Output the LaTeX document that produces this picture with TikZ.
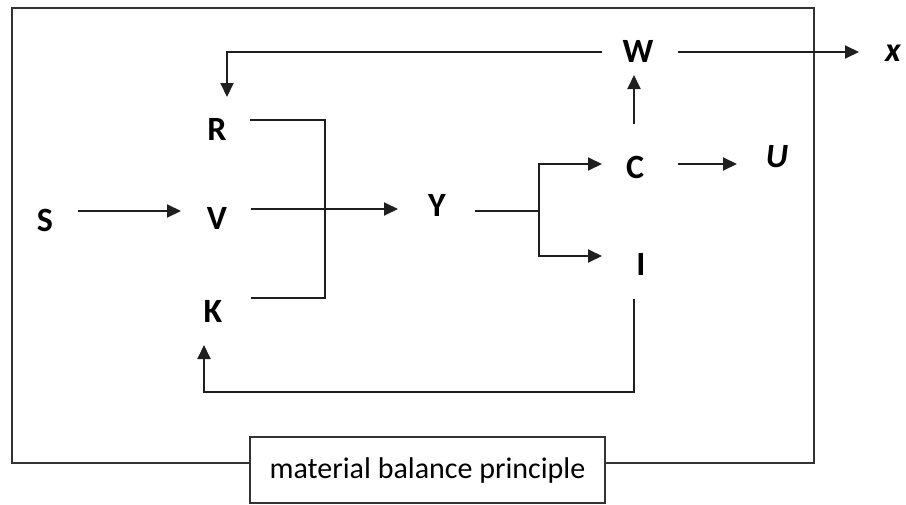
\documentclass[tikz,border=0pt]{standalone}
\usepackage{fontspec}
\setmainfont{Carlito}
\usetikzlibrary{arrows.meta}
\tikzset{
  lbl/.style={font=\fontsize{34}{38}\selectfont\bfseries, inner sep=0pt},
  ilbl/.style={font=\fontsize{34}{38}\selectfont\bfseries\itshape, inner sep=0pt},
  conn/.style={line width=1.9pt, draw=black!88},
  arr/.style={conn, -{Triangle[length=14pt,width=13pt]}},
  frame/.style={line width=1.9pt, draw=black!80},
}
\begin{document}
\begin{tikzpicture}[x=1pt,y=-1pt]
\useasboundingbox (0,0) rectangle (906,504);
\fill[white] (0,0) rectangle (906,504);
% outer frame
\draw[frame] (12,8) rectangle (814,463);
% labels
\node[lbl] (S) at (45,220) {S};
\node[lbl] (R) at (217,129) {R};
\node[lbl] (V) at (217,218) {V};
\node[lbl] (K) at (213,311) {K};
\node[lbl] (Y) at (437,205) {Y};
\node[lbl] (W) at (638,51) {W};
\node[lbl] (C) at (635,167) {C};
\node[lbl] (I) at (641,264) {I};
\node[ilbl] (U) at (777,157) {U};
\node[ilbl] (X) at (893,53) {x};
% connector points
\coordinate (s-out) at (78,211);
\coordinate (v-in) at (181,211);
\coordinate (r-out) at (250,120);
\coordinate (r-in) at (227,97);
\coordinate (v-out) at (251,209);
\coordinate (y-in) at (398,209);
\coordinate (k-out) at (251,298);
\coordinate (k-in) at (204,345);
\coordinate (bus) at (325,120);
\coordinate (y-out) at (475,211);
\coordinate (split) at (539,211);
\coordinate (c-in) at (602,164);
\coordinate (i-in) at (602,256);
\coordinate (c-out) at (678,164);
\coordinate (u-in) at (737,164);
\coordinate (c-up) at (634,124);
\coordinate (w-in) at (634,75);
\coordinate (w-left) at (602,52);
\coordinate (w-out) at (678,52);
\coordinate (x-in) at (859,52);
\coordinate (i-out) at (634,299);
% connectors
\draw[arr] (s-out) -- (v-in);
\draw[arr] (v-out) -- (y-in);
\draw[conn] (r-out) -- (bus) |- (k-out);
\draw[conn] (y-out) -- (split);
\draw[arr] (split) |- (c-in);
\draw[arr] (split) |- (i-in);
\draw[arr] (c-out) -- (u-in);
\draw[arr] (c-up) -- (w-in);
\draw[arr] (w-left) -| (r-in);
\draw[arr] (w-out) -- (x-in);
\draw[arr] (i-out) -- (i-out |- 0,392) -| (k-in);
% principle box
\node[frame, fill=white, minimum width=355pt, minimum height=66pt, inner sep=0pt,
      font=\fontsize{30}{36}\selectfont] (MB) at (427.5,470) {material balance principle};
\end{tikzpicture}
\end{document}
